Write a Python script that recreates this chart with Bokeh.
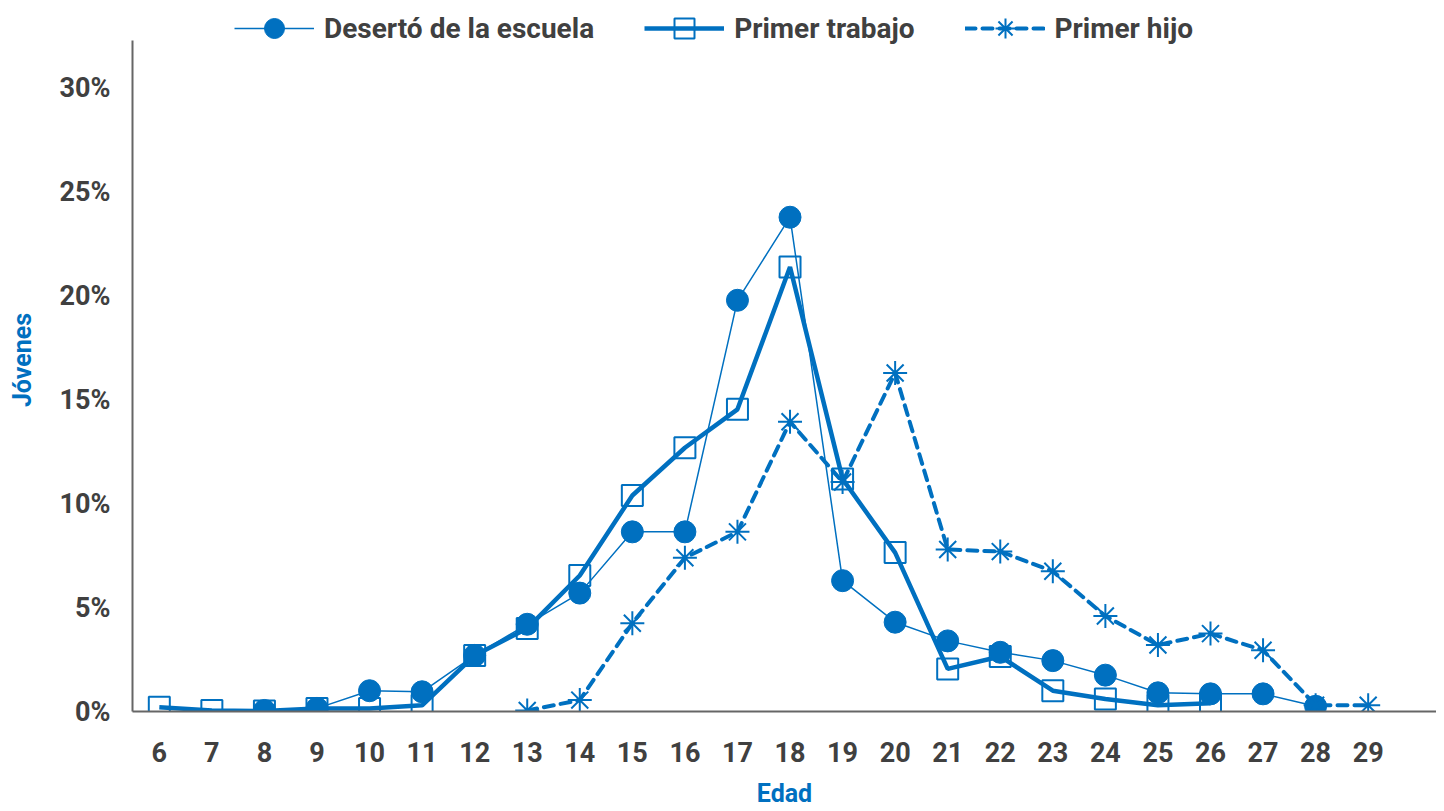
import math
from bokeh.plotting import figure
from bokeh.models import (ColumnDataSource, FixedTicker, PrintfTickFormatter,
                          Legend, LegendItem, Range1d)
from bokeh.embed import file_html
from bokeh.resources import INLINE

nan = float("nan")

edades = list(range(6, 30))
deserto = [nan, nan, 0.05, 0.15, 1.0, 0.95, 2.7, 4.2, 5.7, 8.65, 8.65, 19.8,
           23.8, 6.3, 4.3, 3.4, 2.85, 2.45, 1.75, 0.9, 0.85, 0.85, 0.25, nan]
primer_trabajo = [0.2, 0.05, 0.02, 0.15, 0.15, 0.3, 2.7, 4.0, 6.55, 10.4, 12.7, 14.55,
                  21.4, 11.2, 7.65, 2.05, 2.65, 1.0, 0.6, 0.3, 0.4, nan, nan, nan]
primer_hijo = [nan, nan, nan, nan, nan, nan, nan, 0.05, 0.55, 4.25, 7.4, 8.65,
               13.95, 11.05, 16.3, 7.8, 7.7, 6.75, 4.6, 3.2, 3.75, 2.95, 0.3, 0.3]
y_ticks = [0, 5, 10, 15, 20, 25, 30]

BLUE = "#0070C0"
TXT = "#404040"
FONT = "Roboto"

src = ColumnDataSource(dict(x=edades, d=deserto, t=primer_trabajo, h=primer_hijo))

p = figure(frame_width=1304, frame_height=703, output_backend="svg", toolbar_location=None,
           x_range=Range1d(5.49, 30.3), y_range=Range1d(0, 33.85),
           min_border_left=132, min_border_right=0, min_border_top=8,
           min_border_bottom=92)
p.outline_line_color = None
p.xgrid.visible = False
p.ygrid.visible = False

# Primer trabajo
lt = p.line("x", "t", source=src, line_color=BLUE, line_width=4.5)
st = p.scatter("x", "t", source=src, marker="square", size=21, fill_color=None,
               line_color=BLUE, line_width=2)
# Desertó
ld = p.line("x", "d", source=src, line_color=BLUE, line_width=1.5)
sd = p.scatter("x", "d", source=src, marker="circle", size=22, fill_color=BLUE,
               line_color=BLUE)
# Primer hijo
lh = p.line("x", "h", source=src, line_color=BLUE, line_width=4, line_dash="10 7",
            line_cap="round")
sh = p.scatter("x", "h", source=src, marker="asterisk", size=24, line_color=BLUE,
               line_width=2)

legend = Legend(items=[
    LegendItem(label="Desertó de la escuela", renderers=[ld, sd]),
    LegendItem(label="Primer trabajo", renderers=[lt, st]),
    LegendItem(label="Primer hijo", renderers=[lh, sh]),
], orientation="horizontal", location=(102, 658))
legend.label_text_font = FONT
legend.label_text_font_style = "bold"
legend.label_text_font_size = "28px"
legend.label_text_color = TXT
legend.glyph_width = 80
legend.glyph_height = 50
legend.label_height = 50
legend.padding = 2
legend.margin = 0
legend.spacing = 50
legend.label_standoff = 10
legend.border_line_color = None
legend.background_fill_alpha = 0
p.add_layout(legend)

for ax in (p.xaxis[0], p.yaxis[0]):
    ax.axis_line_color = "#666666"
    ax.axis_line_width = 2
    ax.major_tick_line_color = None
    ax.minor_tick_line_color = None
    ax.major_label_text_font = FONT
    ax.major_label_text_font_style = "bold"
    ax.major_label_text_font_size = "27px"
    ax.major_label_text_color = TXT
    ax.axis_label_text_font = FONT
    ax.axis_label_text_font_style = "bold"
    ax.axis_label_text_font_size = "25px"
    ax.axis_label_text_color = BLUE

p.xaxis[0].ticker = FixedTicker(ticks=edades)
p.xaxis[0].major_label_standoff = 24
p.xaxis[0].axis_label = "Edad"
p.xaxis[0].axis_label_standoff = 14

p.yaxis[0].ticker = FixedTicker(ticks=y_ticks)
p.yaxis[0].bounds = (0, 32.3)
p.yaxis[0].formatter = PrintfTickFormatter(format="%d%%")
p.yaxis[0].major_label_standoff = 16
p.yaxis[0].axis_label = "Jóvenes"
p.yaxis[0].axis_label_standoff = 20

open("out.html", "w").write(file_html(p, INLINE))
